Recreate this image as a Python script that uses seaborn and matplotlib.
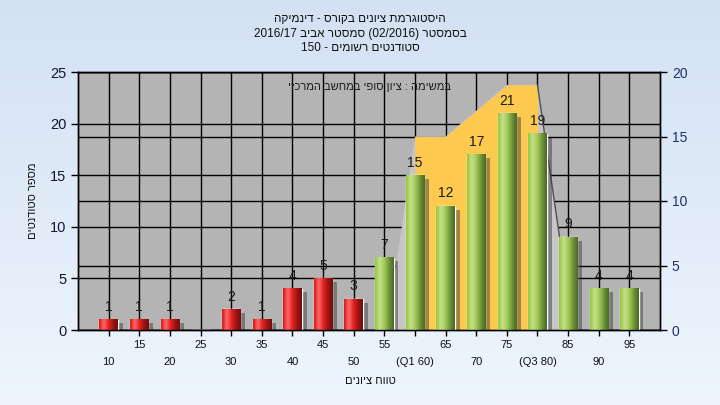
import re
import numpy as np
import pandas as pd
import matplotlib
matplotlib.use("Agg")
import matplotlib.pyplot as plt
from matplotlib.colors import LinearSegmentedColormap
from matplotlib.patches import Rectangle, Polygon
from matplotlib.transforms import blended_transform_factory
import seaborn as sns

# grade histogram data
grades = [10, 15, 20, 25, 30, 35, 40, 45, 50, 55, 60, 65, 70, 75, 80, 85, 90, 95]
counts = [1, 1, 1, 0, 2, 1, 4, 5, 3, 7, 15, 12, 17, 21, 19, 9, 4, 4]
tick_names = {60: "(Q1 60)", 80: "(Q3 80)"}
pass_grade = 55

# Q1..Q3 band (right axis)
band_grades = [60, 65, 70, 75, 80]
band_values = [15, 15, 17, 19, 19]

title_lines = [
    "היסטוגרמת ציונים בקורס - דינמיקה",
    "בסמסטר (02/2016) סמסטר אביב 2016/17",
    "סטודנטים רשומים - 150",
]
note = "במשימה : ציון סופי במחשב המרכזי"
xlabel = "טווח ציונים"
ylabel = "מספר סטודנטים"


def rtl(s):
    # matplotlib has no bidi support: lay the Hebrew out right-to-left by hand
    s = s[::-1]
    s = re.sub(r"[0-9A-Za-z/.]+", lambda m: m.group(0)[::-1], s)
    return s.translate(str.maketrans("()", ")("))


sns.set_theme(style="white")
plt.rcParams["font.family"] = ["Liberation Sans", "DejaVu Sans"]

fig = plt.figure(figsize=(7.2, 4.05), dpi=100)

# light blue background gradient
bg = fig.add_axes([0, 0, 1, 1], zorder=-10)
bg.imshow(np.linspace(0, 1, 256).reshape(-1, 1), aspect="auto", extent=(0, 1, 0, 1),
          cmap=LinearSegmentedColormap.from_list("bg", ["#d3e1f3", "#eef5fd"]))
bg.axis("off")

ax = fig.add_axes([78 / 720, 75 / 405, 582 / 720, 258 / 405])
ax.set_facecolor("#b4b4b4")

df = pd.DataFrame({
    "grade": [str(g) for g in grades],
    "count": counts,
    "group": ["fail" if g < pass_grade else "pass" for g in grades],
})
sns.barplot(data=df, x="grade", y="count", hue="group", dodge=False, width=0.6,
            palette={"fail": "#e02020", "pass": "#8fbf45"}, legend=False, ax=ax, zorder=3)
bars = [p for p in ax.patches if isinstance(p, Rectangle)]

ax2 = ax.twinx()
ax2.set_ylim(0, 20)
ax2.set_yticks(range(0, 21, 5))

# band area drawn on ax in right-axis units so it sits under the bars
band_x = [grades.index(g) for g in band_grades]
trans = ax2.transData
side = [(band_x[0] - 0.92, 0)] + list(zip(band_x, band_values)) + [(band_x[-1] + 1.16, 0)]
ax.add_patch(Polygon(side, closed=True, color="#c6c6c6", lw=0, transform=trans, zorder=1.1))
ax.plot([band_x[-1], band_x[-1] + 1.16], [band_values[-1], 0], color="#505050", lw=1,
        transform=trans, zorder=1.3)
ax.fill_between(band_x, band_values, 0, color="#fdc94f", lw=0, transform=trans, zorder=1.2)

# gridlines of the right axis, kept below the band
blend = blended_transform_factory(ax.transAxes, ax2.transData)
for t in ax2.get_yticks():
    ax.plot([0, 1], [t, t], color="black", lw=1, transform=blend, zorder=0.6)

# gradient fill, shadow and value label for each bar
red_cmap = LinearSegmentedColormap.from_list("red", ["#d81414", "#ff6a6a", "#e42222", "#a01414", "#6e0c0c"])
green_cmap = LinearSegmentedColormap.from_list("green", ["#94c83c", "#c6e08c", "#a2c85a", "#6e9438", "#4a6626"])
grad = np.linspace(0, 1, 64).reshape(1, -1)
for p in bars:
    h = p.get_height()
    if h <= 0:
        continue
    x0, w = p.get_x(), p.get_width()
    idx = int(round(x0 + w / 2))
    cmap = green_cmap if grades[idx] >= pass_grade else red_cmap
    ax.add_patch(Rectangle((x0 + w, -0.35), 0.16, h, color="#303030", alpha=0.45, lw=0, zorder=2.5))
    ax.imshow(grad, cmap=cmap, extent=(x0, x0 + w, 0, h), aspect="auto",
              interpolation="bicubic", zorder=3.5)
    ax.text(x0 + w / 2, h + 0.55, str(counts[idx]), ha="center", va="bottom",
            fontsize=10, color="#1a1a1a", zorder=5)

ax.set_xlim(-1, len(grades))
ax.set_ylim(0, 25)
ax.set_yticks(range(0, 26, 5))

even = list(range(0, len(grades), 2))
odd = list(range(1, len(grades), 2))
ax.set_xticks(even, [tick_names.get(grades[i], str(grades[i])) for i in even])
ax.set_xticks(odd, [str(grades[i]) for i in odd], minor=True)
ax.set_xlabel("")
ax.set_ylabel("")

ax.set_axisbelow(True)
ax.grid(True, which="both", color="black", lw=1)
ax.tick_params(axis="x", which="major", direction="out", length=4, width=1, color="black",
               pad=15.5, labelsize=8, labelcolor="#111111", bottom=True)
ax.tick_params(axis="x", which="minor", direction="out", length=4, width=1, color="black",
               pad=3, labelsize=8, labelcolor="#111111", bottom=True)
ax.tick_params(axis="y", direction="out", length=5, width=1, color="black",
               labelsize=10.5, labelcolor="#15153a", left=True)
ax2.tick_params(axis="y", direction="out", length=5, width=1, color="black",
                labelsize=10, labelcolor="#1a3270", right=True)
for a in (ax, ax2):
    for s in a.spines.values():
        s.set_color("black")
        s.set_linewidth(1)

ax.text(0.5, 0.94, rtl(note), transform=ax.transAxes, ha="center", va="center",
        fontsize=8, color="#1a1a1a", zorder=6)

fig.text(0.5, 1 - 13 / 405, "\n".join(rtl(l) for l in title_lines), ha="center", va="top",
         fontsize=8.5, linespacing=1.3, color="#111111")
fig.text(370 / 720, 1 - 381 / 405, rtl(xlabel), ha="center", va="center", fontsize=8, color="#111111")
fig.text(33 / 720, 1 - 201 / 405, rtl(ylabel), ha="center", va="center", rotation=90,
         fontsize=8, color="#111111")

fig.savefig("out.png", dpi=100)
